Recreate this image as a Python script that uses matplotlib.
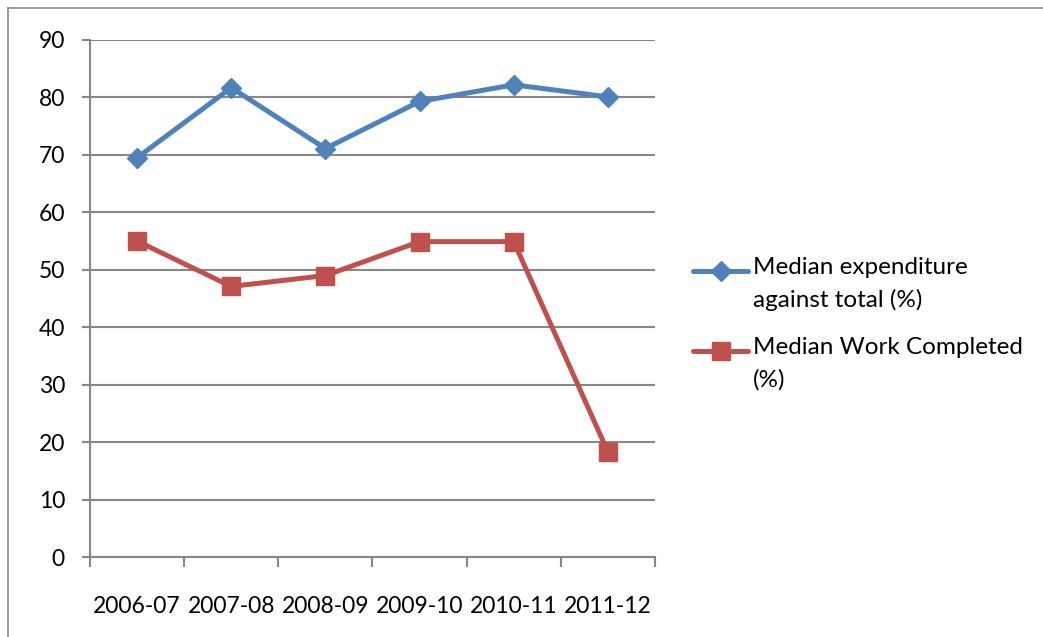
import matplotlib
matplotlib.use("Agg")
import matplotlib.pyplot as plt
from matplotlib.lines import Line2D

categories = ["2006-07", "2007-08", "2008-09", "2009-10", "2010-11", "2011-12"]
expenditure = [69.5, 81.7, 71.1, 79.3, 82.2, 80.1]
work_completed = [55.0, 47.1, 49.0, 54.9, 54.9, 18.3]
labels = ["Median expenditure\nagainst total (%)", "Median Work Completed\n(%)"]
yticks = [0, 10, 20, 30, 40, 50, 60, 70, 80, 90]

BLUE = "#4F81BD"
RED = "#C0504D"
GRID = "#878787"

plt.rcParams['font.family'] = ['Lato', 'DejaVu Sans']

W, H = 1043, 637
fig = plt.figure(figsize=(W / 100, H / 100), dpi=100)
ax = fig.add_axes([90 / W, 1 - 557 / H, (655 - 90) / W, (557 - 40) / H])

x = list(range(len(categories)))
ax.plot(x, expenditure, color=BLUE, lw=3.6, marker="D", markersize=10, zorder=3)
ax.plot(x, work_completed, color=RED, lw=3.6, marker="s", markersize=13, zorder=3)

ax.set_xlim(-0.5, len(categories) - 0.5)
ax.set_ylim(0, 90)
ax.set_yticks(yticks)
ax.set_yticklabels([str(v) for v in yticks], fontsize=16.5)
ax.yaxis.grid(True, color=GRID, lw=1.5)
ax.set_axisbelow(True)

ax.set_xticks(x)
ax.set_xticklabels(categories, fontsize=16.5)
ax.tick_params(axis="x", which="major", length=0, pad=28)
ax.set_xticks([i - 0.5 for i in range(len(categories) + 1)], minor=True)
ax.tick_params(axis="x", which="minor", length=7, color=GRID, width=1.5, direction="out")
ax.tick_params(axis="y", length=6, color=GRID, width=1.5, pad=12)

for s in ["top", "right"]:
    ax.spines[s].set_visible(False)
for s in ["left", "bottom"]:
    ax.spines[s].set_color(GRID)
    ax.spines[s].set_linewidth(1.5)

# outer chart border (top and left visible)
fig.add_artist(Line2D([8 / W, 8 / W], [0, 1 - 8 / H], color="#8c8c8c", lw=1.2, transform=fig.transFigure))
fig.add_artist(Line2D([8 / W, 1], [1 - 8 / H, 1 - 8 / H], color="#8c8c8c", lw=1.2, transform=fig.transFigure))

# legend
entries = [(BLUE, "D", 10, labels[0], 271), (RED, "s", 13, labels[1], 351)]
for color, mk, ms, lab, yc in entries:
    fig.add_artist(Line2D([693 / W, 748 / W], [1 - yc / H, 1 - yc / H], color=color, lw=3.6,
                          solid_capstyle="round", transform=fig.transFigure))
    fig.add_artist(Line2D([720.5 / W], [1 - yc / H], color=color, marker=mk, markersize=ms,
                          lw=0, transform=fig.transFigure))
    fig.text(753 / W, 1 - (yc - 14) / H, lab, fontsize=17.5, va="top", ha="left",
             linespacing=1.62)

fig.savefig("out.png", dpi=100, facecolor="white")
